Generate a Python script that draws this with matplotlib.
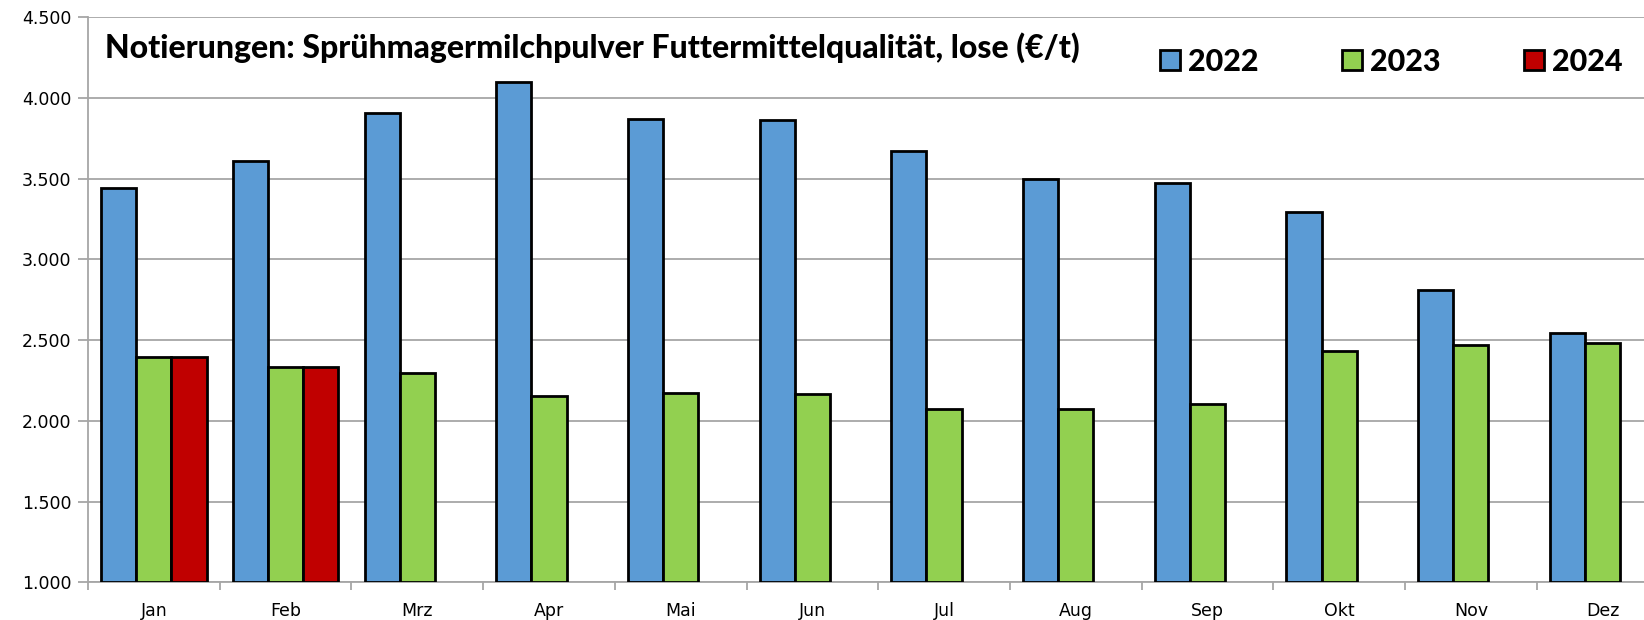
import numpy as np
import matplotlib.pyplot as plt
from matplotlib.patches import Patch

# data
months = ["Jan", "Feb", "Mrz", "Apr", "Mai", "Jun", "Jul", "Aug", "Sep", "Okt", "Nov", "Dez"]
v2022 = [3440, 3607, 3905, 4100, 3870, 3865, 3670, 3495, 3470, 3295, 2810, 2545]
v2023 = [2395, 2333, 2295, 2155, 2170, 2165, 2070, 2075, 2105, 2435, 2470, 2480]
v2024 = [2395, 2333]
years = ["2022", "2023", "2024"]
colors = ["#5B9BD5", "#92D050", "#C00000"]

fig = plt.figure(figsize=(16.44, 6.2), dpi=100)
ax = fig.add_axes([88/1644, 37.7/620, 1580.4/1644, 565.3/620])

x = np.arange(len(months))
w = 0.8/3
for k, vals in enumerate([v2022, v2023, v2024]):
    xs = x[:len(vals)] + (k-1)*w
    ax.bar(xs, np.array(vals) - 1000, bottom=1000, width=w, color=colors[k],
           edgecolor="black", linewidth=2.0, zorder=3)

ax.set_xlim(-0.5, 11.5)
ax.set_ylim(1000, 4500)
yt = np.arange(1000, 4501, 500)
ax.set_yticks(yt)
ax.set_yticklabels([f"{v:,}".replace(",", ".") for v in yt])
ax.yaxis.grid(True, color="#A6A6A6", linewidth=1.3, zorder=0)
ax.set_axisbelow(True)

ax.set_xticks(x)
ax.set_xticklabels(months)
ax.set_xticks(np.arange(-0.5, 12, 1), minor=True)
ax.tick_params(axis="x", which="major", length=0, pad=14, labelsize=12.5)
ax.tick_params(axis="x", which="minor", length=6, color="#A6A6A6", width=1.3, direction="out")
ax.tick_params(axis="y", length=7, color="#A6A6A6", width=1.3, labelsize=12.5, pad=5)

for s in ["top", "right"]:
    ax.spines[s].set_visible(False)
ax.spines["left"].set_color("#A6A6A6")
ax.spines["left"].set_linewidth(1.3)
ax.spines["bottom"].set_color("#A6A6A6")
ax.spines["bottom"].set_linewidth(1.3)

fig.text(105/1644, 1-58/620, "Notierungen: Sprühmagermilchpulver Futtermittelqualität, lose (€/t)",
         fontsize=23, fontweight="black", family="Lato", va="baseline", ha="left")

handles = [Patch(facecolor=c, edgecolor="black", linewidth=2.0) for c in colors]
fig.legend(handles, years, loc="center left", bbox_to_anchor=(1160/1644, 1-62/620), ncol=3,
           frameon=False, prop={"family": "Lato", "weight": "black", "size": 22},
           handlelength=0.65, handleheight=0.65, handletextpad=0.25, columnspacing=2.75,
           borderaxespad=0, borderpad=0)

fig.savefig("out.png", dpi=100)
